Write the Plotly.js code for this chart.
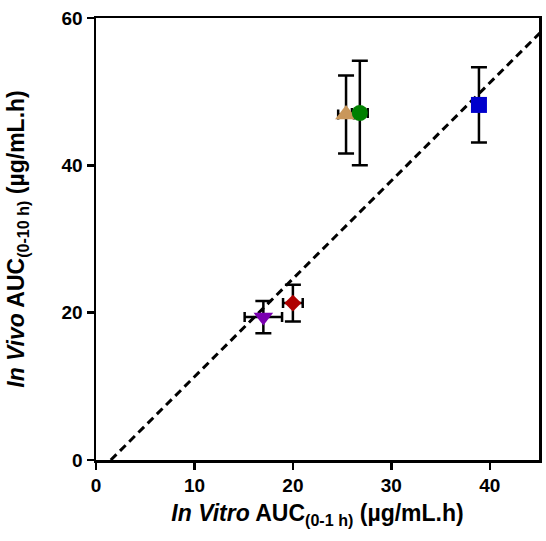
<!DOCTYPE html>
<html>
<head>
<meta charset="utf-8">
<script src="https://cdn.plot.ly/plotly-3.0.1.min.js"></script>
<style>html,body{margin:0;padding:0;background:#fff;}#chart{width:546px;height:541px;}</style>
</head>
<body>
<div id="chart"></div>
<script>
// Data
const names = ["A", "B", "C", "D", "E"];
const xVals = [25.4, 26.8, 38.9, 17.0, 20.0];
const xErr = [0.8, 0.8, 0.0, 1.9, 1.0];
const yVals = [46.9, 47.1, 48.2, 19.4, 21.3];
const yErr = [5.3, 7.1, 5.1, 2.2, 2.5];
const symbols = ["triangle-up", "circle", "square", "triangle-down", "diamond"];
const colors = ["#C9975B", "#008000", "#0000CC", "#7A00B0", "#B00000"];
const sizes = [19, 16, 16, 17, 13];
// dashed reference line: y = slope*x + intercept
const lineX = [1.5, 46];
const slope = 1.33;
const intercept = -2.0;

const traces = [];
traces.push({
  type: "scatter", mode: "lines", name: "fit",
  x: lineX, y: lineX.map(v => slope * v + intercept),
  line: {color: "#000", width: 3, dash: "8px,5px"}
});
// error bars first (beneath every marker)
for (let i = 0; i < names.length; i++) {
  traces.push({
    type: "scatter", mode: "markers", name: names[i] + " err",
    x: [xVals[i]], y: [yVals[i]],
    marker: {color: "rgba(0,0,0,0)", size: 1},
    error_x: {type: "data", array: [xErr[i]], visible: xErr[i] > 0, color: "#000", thickness: 2.5, width: 5},
    error_y: {type: "data", array: [yErr[i]], visible: true, color: "#000", thickness: 2.5, width: 8},
    cliponaxis: false
  });
}
for (let i = 0; i < names.length; i++) {
  traces.push({
    type: "scatter", mode: "markers", name: names[i],
    x: [xVals[i]], y: [yVals[i]],
    marker: {symbol: symbols[i], color: colors[i], size: sizes[i], line: {width: 0}},
    cliponaxis: false
  });
}

const tickFont = {family: "Liberation Sans, Arial, sans-serif", size: 19, color: "#000", weight: "bold"};
const titleFont = {family: "Liberation Sans, Arial, sans-serif", size: 23, color: "#000", weight: "bold"};
const layout = {
  width: 546, height: 541,
  margin: {l: 96, r: 7, t: 18, b: 81},
  showlegend: false,
  paper_bgcolor: "#fff", plot_bgcolor: "#fff",
  xaxis: {
    range: [0, 45], tickvals: [0, 10, 20, 30, 40], showgrid: false, zeroline: false,
    showline: true, linecolor: "#000", linewidth: 2.5, mirror: true,
    ticks: "outside", ticklen: 7, tickwidth: 2.5, tickcolor: "#000",
    tickfont: tickFont,
    title: {text: "<b><i>In Vitro</i> AUC<sub>(0-1 h)</sub> (µg/mL.h)</b>", font: titleFont, standoff: 10}
  },
  yaxis: {
    range: [0, 60], tickvals: [0, 20, 40, 60], showgrid: false, zeroline: false,
    showline: true, linecolor: "#000", linewidth: 2.5, mirror: true,
    ticks: "outside", ticklen: 7, tickwidth: 2.5, tickcolor: "#000",
    tickfont: tickFont,
    title: {text: "<b><i>In Vivo</i> AUC<sub>(0-10 h)</sub> (µg/mL.h)</b>", font: titleFont, standoff: 31}
  }
};
Plotly.newPlot("chart", traces, layout, {displayModeBar: false, staticPlot: true});
</script>
</body>
</html>
